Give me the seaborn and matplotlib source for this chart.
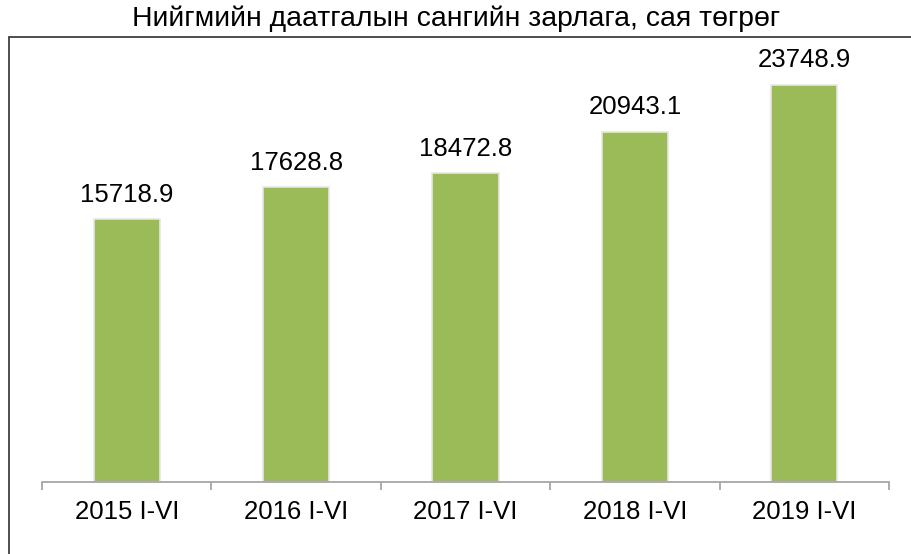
import matplotlib
matplotlib.use('Agg')
import matplotlib.pyplot as plt
import seaborn as sns
from matplotlib.lines import Line2D

periods = ['2015 I-VI', '2016 I-VI', '2017 I-VI', '2018 I-VI', '2019 I-VI']
expenses = [15718.9, 17628.8, 18472.8, 20943.1, 23748.9]
title = 'Нийгмийн даатгалын сангийн зарлага, сая төгрөг'

sns.set_style('white')
plt.rcParams['font.family'] = ['Liberation Sans', 'DejaVu Sans']

W, H = 912, 554
fig = plt.figure(figsize=(W / 100, H / 100), dpi=100)
# axes placed in pixel terms: left 42, right 889, bottom 482, top 64
ax = fig.add_axes([42 / W, 1 - 482 / H, (889 - 42) / W, (482 - 64) / H])

sns.barplot(x=periods, y=expenses, color='#9BBB59', width=0.39, saturation=1,
            edgecolor='#e6e6e6', linewidth=1.2, ax=ax)

for c in ax.containers:
    ax.bar_label(c, labels=[f'{v:.1f}' for v in expenses], padding=9,
                 fontsize=18.5, color='black')

ax.set_ylim(0, 25000)
ax.set_xlim(-0.5, 4.5)
ax.set_yticks([])
ax.set_xlabel('')
ax.set_ylabel('')
for s in ['top', 'right', 'left']:
    ax.spines[s].set_visible(False)
ax.spines['bottom'].set_color('#a6a6a6')
ax.spines['bottom'].set_linewidth(1.3)

ax.set_xticks([i - 0.5 for i in range(len(periods) + 1)], minor=True)
ax.tick_params(axis='x', which='minor', length=6, width=1.3, color='#a6a6a6',
               direction='out', bottom=True)
ax.tick_params(axis='x', which='major', length=0, pad=13, labelsize=18.5,
               labelcolor='black')

fig.text(0.5, 1 - 19 / H, title, ha='center', va='center', fontsize=20.4,
         color='black')

# outer frame (top and left edges visible)
fig.add_artist(Line2D([9 / W, 1], [1 - 37 / H, 1 - 37 / H],
                      transform=fig.transFigure, color='#404040', lw=1.3))
fig.add_artist(Line2D([9 / W, 9 / W], [0, 1 - 37 / H],
                      transform=fig.transFigure, color='#404040', lw=1.3))

fig.savefig('out.png', dpi=100)
plt.close(fig)
